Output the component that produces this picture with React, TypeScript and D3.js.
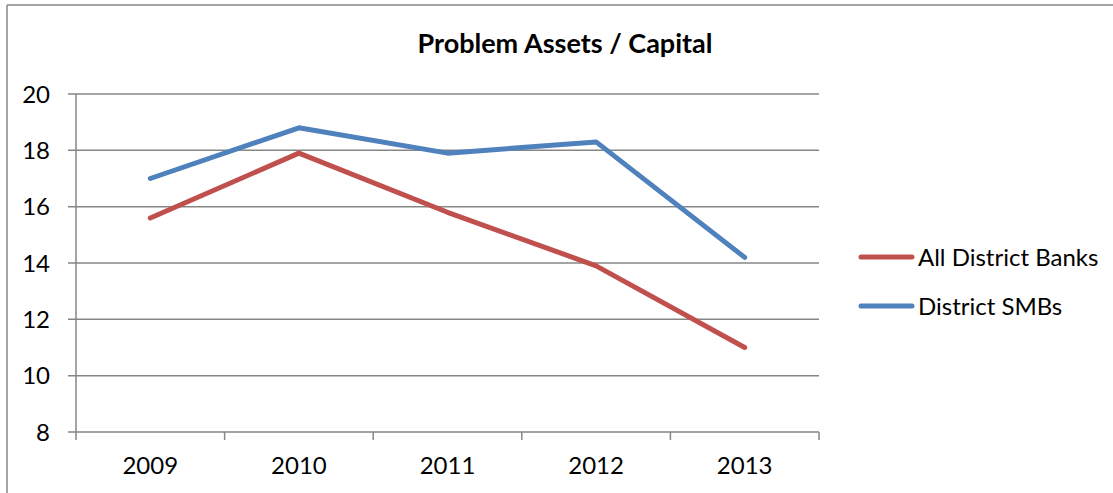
import React from 'react';
import * as d3 from 'd3';

// Chart data
const years = ['2009', '2010', '2011', '2012', '2013'];
const allDistrictBanks = [15.6, 17.9, 15.8, 13.9, 11.0];
const districtSMBs = [17.0, 18.8, 17.9, 18.3, 14.2];
const yTicks = [8, 10, 12, 14, 16, 18, 20];

const series = [
  { name: 'All District Banks', values: allDistrictBanks, color: '#C0504D' },
  { name: 'District SMBs', values: districtSMBs, color: '#4F81BD' },
];

const W = 1113;
const H = 493;
const FONT = 'Lato, "Open Sans", sans-serif';

const App = () => {
  const margin = { left: 76, right: 819, top: 94, bottom: 432 };

  const x = d3.scaleBand<string>().domain(years).range([margin.left, margin.right]).padding(0);
  const y = d3.scaleLinear().domain([8, 20]).range([margin.bottom, margin.top]);

  const line = d3
    .line<number>()
    .x((_, i) => (x(years[i]) as number) + x.bandwidth() / 2)
    .y((d) => y(d));

  // category boundaries for x ticks
  const xBounds = years.map((yr) => x(yr) as number).concat([margin.right]);

  return (
    <svg
      width={W}
      height={H}
      style={{ position: 'absolute', left: 0, top: 0, background: '#fff' }}
      fontFamily={FONT}
    >
      {/* outer frame (top + left only visible) */}
      <line x1={7} y1={5} x2={W} y2={5} stroke="#868686" strokeWidth={1.5} />
      <line x1={7} y1={5} x2={7} y2={H} stroke="#868686" strokeWidth={1.5} />

      <text x={565} y={53} textAnchor="middle" fontSize={27} fontWeight="bold" fill="#000">
        Problem Assets / Capital
      </text>

      {/* horizontal gridlines + y ticks */}
      {yTicks.map((t) => (
        <g key={t}>
          <line x1={margin.left - 8} x2={margin.right} y1={y(t)} y2={y(t)} stroke="#868686" strokeWidth={1.5} />
          <text x={50} y={y(t)} dy="0.36em" textAnchor="end" fontSize={24} fill="#000">
            {t}
          </text>
        </g>
      ))}

      {/* y axis line */}
      <line x1={margin.left} x2={margin.left} y1={margin.top} y2={margin.bottom} stroke="#868686" strokeWidth={1.5} />

      {/* x ticks */}
      {xBounds.map((bx, i) => (
        <line key={i} x1={bx} x2={bx} y1={margin.bottom} y2={margin.bottom + 8} stroke="#868686" strokeWidth={1.5} />
      ))}

      {/* x labels */}
      {years.map((yr) => (
        <text
          key={yr}
          x={(x(yr) as number) + x.bandwidth() / 2}
          y={474}
          textAnchor="middle"
          fontSize={24}
          fill="#000"
        >
          {yr}
        </text>
      ))}

      {/* series lines */}
      {series.map((s) => (
        <path
          key={s.name}
          d={line(s.values) || ''}
          fill="none"
          stroke={s.color}
          strokeWidth={5}
          strokeLinecap="round"
          strokeLinejoin="round"
        />
      ))}

      {/* legend */}
      {series.map((s, i) => (
        <g key={s.name} transform={`translate(0, ${257 + i * 49})`}>
          <line x1={861} x2={912} y1={0} y2={0} stroke={s.color} strokeWidth={5} strokeLinecap="round" />
          <text x={918} y={0} dy="0.36em" fontSize={24} fill="#000">
            {s.name}
          </text>
        </g>
      ))}
    </svg>
  );
};

export default App;
